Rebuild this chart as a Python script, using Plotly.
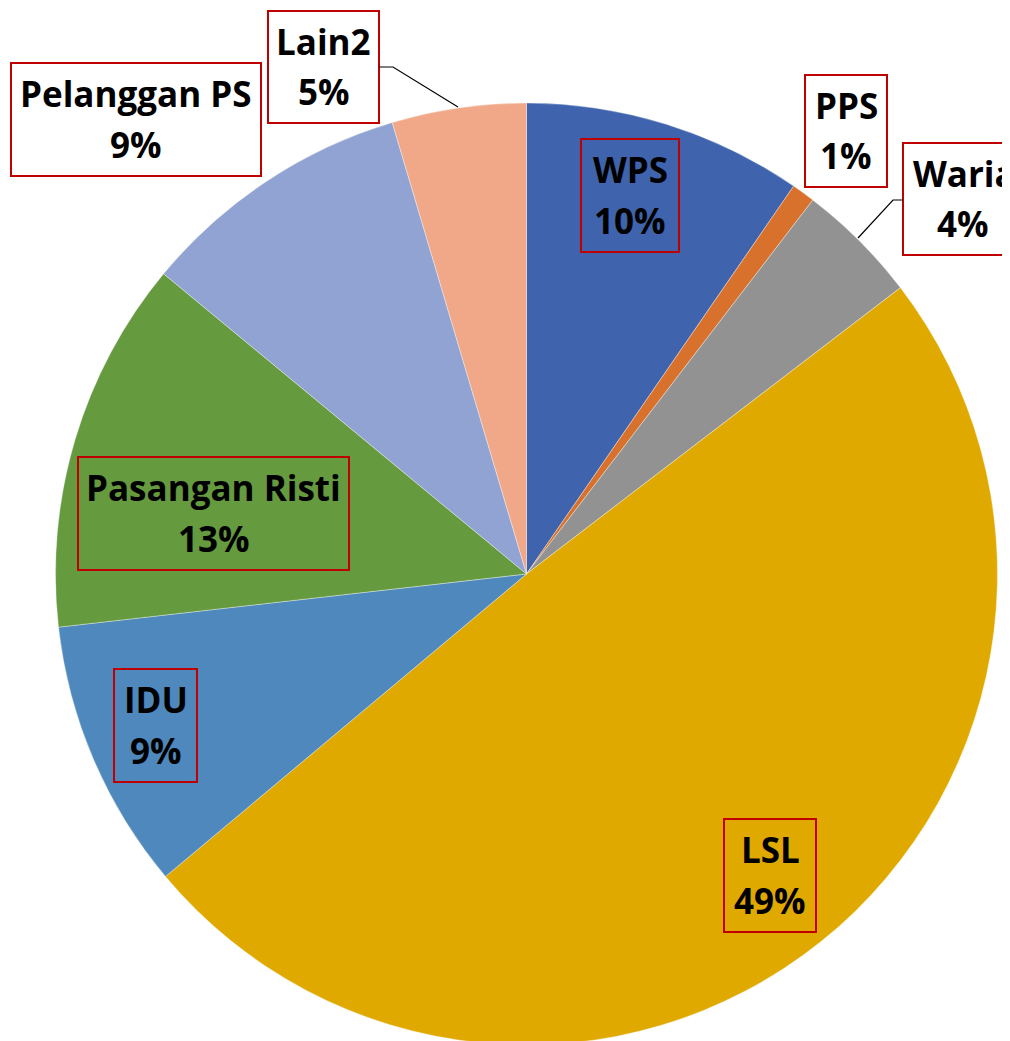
import plotly.graph_objects as go

W, H = 1002, 1041
OFF = 8  # page body margin in the browser

labels = ["WPS", "PPS", "Waria", "LSL", "IDU", "Pasangan Risti", "Pelanggan PS", "Lain2"]
values = [9.6, 0.8, 4.2, 49.3, 9.3, 12.8, 9.4, 4.6]
colors = ["#3F64AD", "#D8712B", "#929292", "#E0A900", "#4E88BD", "#659A3F", "#90A3D3", "#F0A888"]

# label boxes in screen pixel coords: (x0, y0, x1, y1, filled)
boxes = {
    "WPS": (581, 139, 679, 252, False),
    "PPS": (805, 75, 887, 187, True),
    "Waria": (903, 143, 1060, 255, True),
    "LSL": (724, 819, 816, 932, False),
    "IDU": (114, 669, 197, 782, False),
    "Pasangan Risti": (78, 457, 349, 570, False),
    "Pelanggan PS": (11, 63, 261, 176, True),
    "Lain2": (268, 11, 379, 123, True),
}
leaders = [
    [(379, 67), (393, 67), (458, 107)],
    [(903, 200), (893, 200), (858, 238)],
]


def px(x):
    return (x - OFF) / W


def py(y):
    return 1 - (y - OFF) / H


fig = go.Figure(
    go.Pie(
        labels=labels,
        values=values,
        sort=False,
        direction="clockwise",
        rotation=0,
        marker=dict(colors=colors, line=dict(color="rgba(255,255,255,0.5)", width=0.7)),
        textinfo="none",
        hoverinfo="label+percent",
        domain=dict(x=[0.0474, 0.9875], y=[0.0038, 0.9088]),
        showlegend=False,
    )
)

total = sum(values)
shapes = []
annotations = []
font = dict(family="Open Sans", size=35, color="black", weight=700)
for lab, v in zip(labels, values):
    x0, y0, x1, y1, filled = boxes[lab]
    shapes.append(dict(
        type="rect", xref="paper", yref="paper",
        x0=px(x0), x1=px(x1), y0=py(y0), y1=py(y1),
        line=dict(color="#C00000", width=2),
        fillcolor="white" if filled else "rgba(0,0,0,0)",
        layer="above",
    ))
    cx = (x0 + x1) / 2
    cy = (y0 + y1) / 2
    pct = int(v / total * 100 + 0.5)
    if lab == "Waria":
        annotations.append(dict(
            text=lab, x=px(911), y=py(cy - 26), xref="paper", yref="paper",
            xanchor="left", yanchor="middle", showarrow=False, font=font,
        ))
        cx = 963
    else:
        annotations.append(dict(
            text=lab, x=px(cx), y=py(cy - 26), xref="paper", yref="paper",
            xanchor="center", yanchor="middle", showarrow=False, font=font,
        ))
    annotations.append(dict(
        text=f"{pct}%", x=px(cx), y=py(cy + 25), xref="paper", yref="paper",
        xanchor="center", yanchor="middle", showarrow=False, font=font,
    ))

for pts in leaders:
    path = "M " + " L ".join(f"{px(x)},{py(y)}" for x, y in pts)
    shapes.append(dict(type="path", xref="paper", yref="paper", path=path,
                       line=dict(color="black", width=1.2), layer="above"))

fig.update_layout(
    width=W, height=H,
    margin=dict(l=0, r=0, t=0, b=0),
    paper_bgcolor="white",
    plot_bgcolor="white",
    shapes=shapes,
    annotations=annotations,
)

fig.write_html("out.html")
